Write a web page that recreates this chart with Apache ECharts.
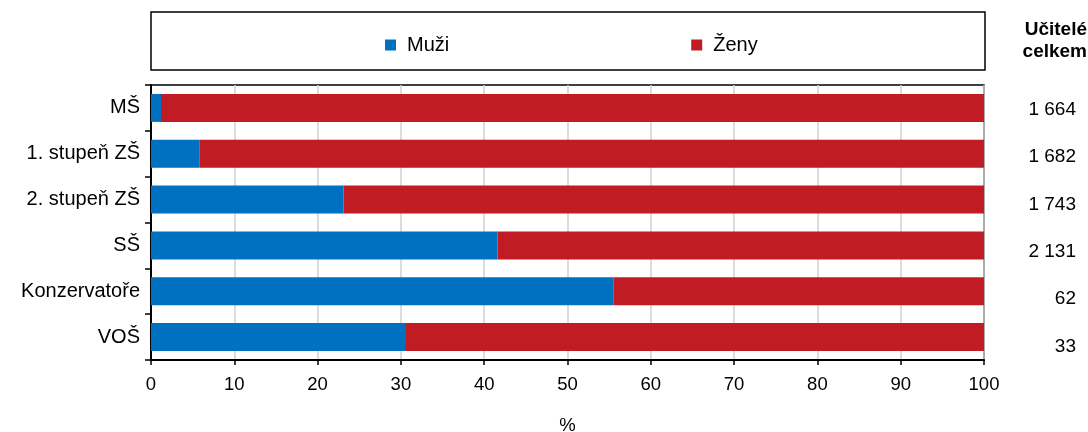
<!DOCTYPE html>
<html>
<head>
<meta charset="utf-8">
<script src="https://cdn.jsdelivr.net/npm/echarts@6/dist/echarts.min.js"></script>
<style>html,body{margin:0;padding:0;background:#fff}#c{width:1088px;height:432px}</style>
</head>
<body>
<div id="c"></div>
<script>
const categories = ['MŠ', '1. stupeň ZŠ', '2. stupeň ZŠ', 'SŠ', 'Konzervatoře', 'VOŠ'];
const muzi = [1.2, 5.8, 23.1, 41.6, 55.5, 30.5];
const zeny = [98.8, 94.2, 76.9, 58.4, 44.5, 69.5];
const totals = [1664, 1682, 1743, 2131, 62, 33];
const xTicks = { min: 0, max: 100, interval: 10 };
const seriesNames = ['Muži', 'Ženy'];
const totalsHeader = 'Učitelé\ncelkem';
const axisName = '%';

const fmt = v => String(v).replace(/\B(?=(\d{3})+(?!\d))/g, ' ');
const FONT = '"Liberation Sans", Arial, sans-serif';

const chart = echarts.init(document.getElementById('c'), null, { renderer: 'canvas' });
chart.setOption({
  animation: false,
  textStyle: { fontFamily: FONT },
  graphic: [
    { type: 'rect', shape: { x: 151, y: 12, width: 834, height: 58 },
      style: { fill: 'none', stroke: '#000', lineWidth: 1.5 }, silent: true },
    { type: 'text', x: 1087, y: 19,
      style: { text: totalsHeader, textAlign: 'right', fontFamily: FONT, fontWeight: 'bold',
               fontSize: 19, lineHeight: 22, fill: '#000' } }
  ],
  legend: {
    left: 380, top: 30, itemGap: 242, itemWidth: 11, itemHeight: 11,
    icon: 'rect',
    textStyle: { fontSize: 20, color: '#000', fontFamily: FONT, padding: [0, 0, 0, 6] },
    data: seriesNames
  },
  grid: [
    { left: 151, right: 104, top: 85, bottom: 72, show: true, borderColor: '#000', borderWidth: 1.5,
      containLabel: false, outerBoundsMode: 'none' },
    { left: 151, right: 88, top: 86, height: 284, containLabel: false, outerBoundsMode: 'none' }
  ],
  xAxis: [
    {
      type: 'value', gridIndex: 0, min: xTicks.min, max: xTicks.max, interval: xTicks.interval,
      axisLine: { show: true, lineStyle: { color: '#000', width: 2 } },
      axisTick: { show: true, length: 5, lineStyle: { color: '#000', width: 1.5 } },
      splitLine: { show: true, lineStyle: { color: '#d0d0d0', width: 1.5 } },
      axisLabel: { fontSize: 18.5, color: '#000', margin: 15, fontFamily: FONT },
      name: axisName, nameLocation: 'middle', nameGap: 56,
      nameTextStyle: { fontSize: 18.5, color: '#000', fontFamily: FONT }
    },
    { type: 'value', gridIndex: 1, show: false, min: 0, max: 100 }
  ],
  yAxis: [
    {
      type: 'category', gridIndex: 0, inverse: true, data: categories,
      axisLine: { show: true, lineStyle: { color: '#000', width: 2 } },
      axisTick: { show: true, length: 6, lineStyle: { color: '#000', width: 1.5 } },
      splitLine: { show: false },
      axisLabel: { fontSize: 20, color: '#000', margin: 11, fontFamily: FONT }
    },
    {
      type: 'category', gridIndex: 1, inverse: true, position: 'right',
      data: totals.map(fmt),
      axisLine: { show: false }, axisTick: { show: false }, splitLine: { show: false },
      axisLabel: { fontSize: 19, color: '#000', margin: 76, align: 'right', fontFamily: FONT }
    }
  ],
  series: [
    { name: seriesNames[0], type: 'bar', stack: 's', data: muzi, xAxisIndex: 0, yAxisIndex: 0,
      barCategoryGap: '39%', itemStyle: { color: '#0070C0' } },
    { name: seriesNames[1], type: 'bar', stack: 's', data: zeny, xAxisIndex: 0, yAxisIndex: 0,
      barCategoryGap: '39%', itemStyle: { color: '#C11B23' } }
  ]
});
</script>
</body>
</html>
